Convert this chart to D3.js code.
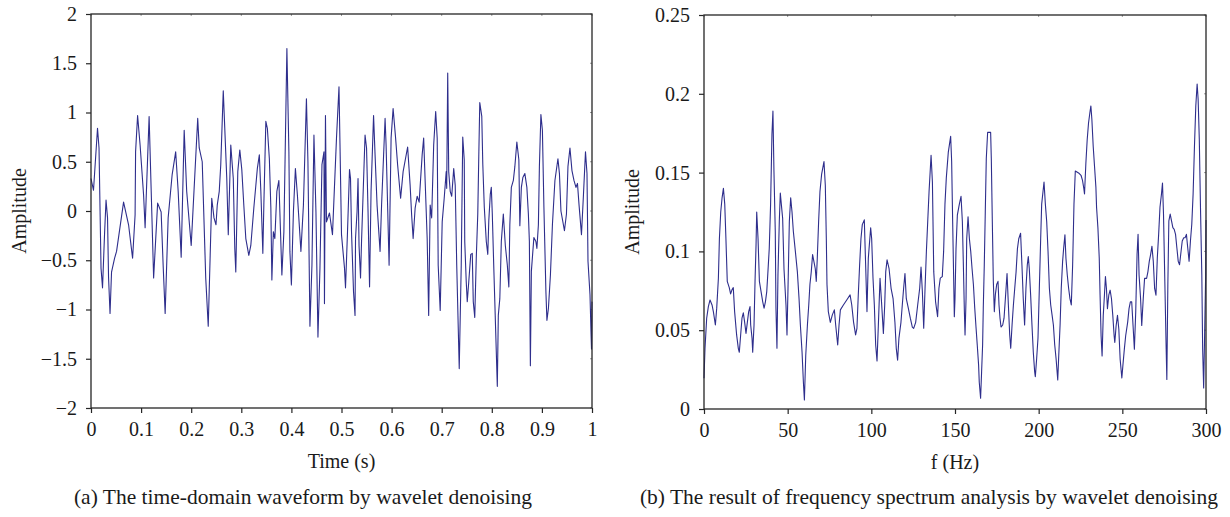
<!DOCTYPE html>
<html>
<head>
<meta charset="utf-8">
<script src="https://cdn.jsdelivr.net/npm/d3@7"></script>
<style>
  body { margin: 0; background: #fff; }
  svg text { font-family: "Liberation Serif", "Times New Roman", serif; fill: #1a1a1a; }
</style>
</head>
<body>
<div id="chart"></div>
<script>
// (a) time-domain waveform (time in s, amplitude)
const timeS = [
  0.000, 0.005, 0.013, 0.016, 0.020, 0.023, 0.027, 0.030, 0.033, 0.035, 0.038, 0.041, 0.047, 0.051,
  0.065, 0.075, 0.083, 0.088, 0.089, 0.093, 0.098, 0.105, 0.108, 0.116, 0.120, 0.125, 0.133, 0.140,
  0.144, 0.148, 0.154, 0.162, 0.169, 0.174, 0.180, 0.186, 0.191, 0.200, 0.213, 0.216, 0.222, 0.229,
  0.234, 0.241, 0.2455, 0.2495, 0.252, 0.256, 0.259, 0.264, 0.267, 0.271, 0.274, 0.279, 0.284, 0.287,
  0.289, 0.293, 0.297, 0.301, 0.305, 0.309, 0.315, 0.319, 0.325, 0.332, 0.336, 0.339, 0.343, 0.345,
  0.349, 0.352, 0.356, 0.359, 0.361, 0.364, 0.367, 0.371, 0.375, 0.377, 0.381, 0.385, 0.391, 0.395,
  0.397, 0.400, 0.404, 0.408, 0.412, 0.419, 0.424, 0.430, 0.433, 0.437, 0.441, 0.445, 0.449, 0.453,
  0.457, 0.461, 0.465, 0.466, 0.468, 0.470, 0.476, 0.482, 0.490, 0.495, 0.497, 0.500, 0.506, 0.508,
  0.512, 0.516, 0.518, 0.520, 0.524, 0.527, 0.528, 0.531, 0.533, 0.535, 0.538, 0.540, 0.547, 0.550,
  0.553, 0.556, 0.559, 0.564, 0.567, 0.571, 0.577, 0.580, 0.587, 0.589, 0.592, 0.595, 0.599, 0.603,
  0.608, 0.612, 0.618, 0.623, 0.632, 0.637, 0.640, 0.643, 0.647, 0.651, 0.655, 0.661, 0.664, 0.667,
  0.671, 0.674, 0.677, 0.680, 0.684, 0.688, 0.691, 0.693, 0.697, 0.701, 0.705, 0.709, 0.710, 0.712,
  0.714, 0.717, 0.720, 0.724, 0.727, 0.730, 0.735, 0.739, 0.742, 0.745, 0.746, 0.749, 0.751, 0.754,
  0.758, 0.761, 0.763, 0.766, 0.769, 0.772, 0.774, 0.776, 0.780, 0.782, 0.785, 0.789, 0.792, 0.794,
  0.797, 0.799, 0.801, 0.804, 0.806, 0.811, 0.813, 0.816, 0.819, 0.823, 0.827, 0.831, 0.834, 0.836,
  0.839, 0.843, 0.846, 0.850, 0.854, 0.856, 0.859, 0.862, 0.866, 0.870, 0.873, 0.875, 0.877, 0.879,
  0.884, 0.888, 0.890, 0.893, 0.895, 0.898, 0.901, 0.904, 0.908, 0.910, 0.913, 0.917, 0.921, 0.926,
  0.932, 0.935, 0.938, 0.945, 0.949, 0.952, 0.956, 0.960, 0.964, 0.968, 0.971, 0.974, 0.979, 0.983,
  0.987, 0.990, 0.992, 0.996, 0.998, 0.999, 1.000
];
const amplitude = [
  0.33, 0.21, 0.84, 0.64, -0.58, -0.78, -0.24, 0.11, -0.07, -0.67, -1.04, -0.62, -0.48, -0.41,
  0.09, -0.14, -0.48, -0.04, 0.60, 0.97, 0.67, 0.16, -0.17, 0.96, 0.23, -0.68, 0.08, -0.01,
  -0.55, -1.04, -0.07, 0.37, 0.60, 0.20, -0.47, 0.82, 0.20, -0.35, 0.94, 0.64, 0.50, -0.68,
  -1.17, 0.13, -0.07, -0.14, 0.06, 0.20, 0.47, 1.22, 0.84, 0.33, -0.24, 0.67, 0.33, -0.38,
  -0.62, 0.40, 0.62, 0.42, 0.06, -0.28, -0.45, -0.35, 0.03, 0.43, 0.57, 0.20, -0.43, 0.06,
  0.91, 0.84, 0.53, 0.03, -0.70, -0.21, -0.28, 0.20, 0.31, -0.01, -0.65, -0.21, 1.65, 0.60,
  -0.41, -0.75, -0.01, 0.43, 0.16, -0.41, 0.06, 1.14, 0.50, -1.17, -0.55, 0.77, -0.01, -1.28,
  -0.58, 0.47, 0.60, -0.94, 0.97, -0.11, -0.02, -0.24, 0.74, 1.26, 0.67, -0.24, -0.58, -0.78,
  -0.21, 0.42, 0.33, -0.21, -0.82, -1.06, -0.28, -0.01, 0.33, -0.35, -0.68, -0.31, 0.77, 0.64,
  -0.01, -0.77, 0.20, 0.97, 0.57, 0.06, -0.41, 0.06, 0.94, 0.67, 0.06, -0.55, 0.74, 1.04,
  0.74, 0.47, 0.13, 0.40, 0.65, 0.26, -0.04, -0.28, 0.03, 0.15, 0.09, 0.57, 0.74, 0.30,
  -0.28, -1.06, 0.06, -0.07, 0.67, 1.01, 0.74, -0.55, -1.01, -0.11, 0.13, 0.40, 0.23, 1.40,
  0.40, 0.20, 0.15, 0.43, 0.26, -0.55, -1.60, -0.55, 0.75, 0.52, -0.31, -0.72, -0.92, -0.72,
  -0.44, -0.43, -0.92, -1.08, -0.48, -0.03, 0.55, 1.10, 0.96, 0.48, 0.04, -0.31, -0.44, -0.10,
  0.17, 0.24, -0.03, -0.58, -0.92, -1.78, -1.06, -0.89, -0.31, -0.03, -0.35, -0.55, -0.77, -0.14,
  0.24, 0.31, 0.45, 0.70, 0.52, -0.15, 0.24, 0.34, 0.38, 0.24, -0.03, -0.31, -1.57, -0.61,
  -0.27, -0.31, -0.38, -0.14, 0.45, 0.98, 0.82, 0.04, -0.82, -1.11, -0.99, -0.65, -0.14, 0.31,
  0.53, 0.38, 0.00, -0.20, -0.03, 0.45, 0.64, 0.41, 0.31, 0.24, 0.28, 0.07, -0.24, 0.17,
  0.60, 0.38, -0.51, -0.85, -1.23, -1.40, -0.92
];

// (b) frequency spectrum (Hz, amplitude)
const freqHz = [
  0.0, 0.6, 1.6, 2.6, 3.6, 4.8, 5.6, 6.8, 7.6, 8.6, 9.2, 10.0, 10.8, 11.6, 12.4, 13.1, 13.9, 15.1,
  15.9, 16.7, 17.5, 18.3, 19.5, 20.5, 21.1, 21.9, 22.7, 23.5, 24.3, 25.1, 25.9, 26.7, 27.5, 27.9,
  28.7, 29.1, 29.9, 30.5, 31.1, 31.5, 32.3, 33.1, 34.1, 35.1, 35.9, 36.7, 37.5, 38.2, 39.0, 39.8,
  40.6, 41.2, 41.8, 42.6, 43.0, 43.6, 44.2, 45.0, 45.6, 46.2, 47.0, 47.8, 49.0, 49.6, 50.2, 51.0,
  51.8, 52.6, 53.4, 54.6, 55.8, 56.8, 57.6, 58.6, 59.4, 60.0, 60.8, 61.8, 62.6, 63.3, 64.1, 64.9,
  65.7, 66.5, 67.1, 67.7, 68.5, 69.3, 70.3, 71.7, 72.5, 73.1, 73.5, 74.3, 75.5, 76.7, 77.9, 78.7,
  79.9, 80.7, 81.5, 83.3, 85.3, 87.3, 88.3, 89.4, 90.6, 91.4, 92.2, 93.0, 93.8, 94.6, 95.8, 96.6,
  97.4, 98.2, 99.6, 100.2, 101.0, 101.8, 102.6, 103.4, 104.2, 105.2, 106.2, 107.2, 108.0, 108.6, 109.4, 110.6,
  111.8, 113.0, 114.1, 114.9, 115.7, 116.5, 117.7, 118.5, 119.3, 120.1, 120.9, 122.1, 123.3, 124.5, 125.3, 126.5,
  127.7, 128.9, 129.7, 130.5, 131.3, 132.1, 132.9, 133.7, 134.5, 135.7, 136.5, 137.3, 138.4, 139.6, 140.4, 141.2,
  142.4, 143.2, 144.0, 144.8, 146.0, 147.4, 148.0, 148.6, 149.2, 149.6, 150.0, 150.6, 151.4, 152.6, 153.6, 154.4,
  155.0, 155.6, 156.0, 156.6, 157.0, 157.8, 158.6, 159.4, 160.2, 161.0, 161.8, 162.6, 163.3, 164.1, 164.5, 165.3,
  165.9, 166.5, 166.9, 167.5, 168.1, 168.7, 169.5, 171.3, 171.7, 172.3, 172.9, 173.5, 174.1, 174.9, 175.7, 176.3,
  176.9, 177.5, 178.5, 179.3, 180.1, 181.1, 181.9, 182.7, 183.3, 184.1, 184.9, 185.7, 186.5, 187.3, 188.1, 189.2,
  190.0, 190.8, 191.6, 192.4, 193.2, 193.8, 194.4, 195.2, 196.0, 196.8, 197.6, 198.0, 198.8, 199.6, 200.4, 201.2,
  201.8, 203.2, 204.0, 204.8, 205.6, 206.4, 207.2, 208.0, 208.8, 209.6, 210.4, 211.4, 212.0, 212.8, 213.5, 214.3,
  214.9, 215.7, 216.3, 217.1, 217.9, 218.7, 219.5, 220.3, 221.1, 221.9, 224.3, 225.3, 226.2, 227.0, 227.4, 228.2,
  229.0, 229.8, 230.6, 231.2, 231.8, 232.6, 233.4, 234.2, 234.6, 235.4, 236.2, 236.7, 237.3, 237.9, 238.6, 239.3,
  239.9, 240.5, 241.1, 241.9, 242.7, 243.5, 244.3, 245.1, 245.5, 246.3, 247.1, 247.9, 248.7, 249.7, 250.3, 251.2,
  252.0, 253.2, 254.0, 254.8, 255.6, 256.4, 257.2, 258.0, 258.8, 259.4, 260.0, 260.9, 261.6, 262.5, 263.3, 264.5,
  265.3, 266.1, 266.9, 267.7, 268.5, 269.3, 270.1, 270.9, 271.7, 272.5, 273.4, 274.0, 274.6, 275.4, 276.2, 276.6,
  277.2, 277.8, 278.6, 279.4, 280.2, 281.0, 281.8, 282.6, 283.4, 284.2, 285.1, 285.8, 286.7, 287.5, 288.3, 289.1,
  289.9, 290.7, 291.5, 292.3, 293.1, 293.9, 294.7, 295.3, 296.0, 296.7, 297.5, 298.0, 298.6, 299.2, 299.8, 300.0
];
const spectrum = [
  0.0195, 0.0385, 0.0576, 0.065, 0.0692, 0.066, 0.0618, 0.0533, 0.064, 0.083, 0.108, 0.125, 0.134, 0.140, 0.130, 0.108, 0.081, 0.077,
  0.073, 0.0756, 0.077, 0.0618, 0.047, 0.0385, 0.036, 0.047, 0.0576, 0.061, 0.055, 0.048, 0.055, 0.0618, 0.065, 0.0533,
  0.045, 0.036, 0.0533, 0.081, 0.104, 0.125, 0.108, 0.081, 0.0745, 0.068, 0.064, 0.068, 0.0745, 0.087, 0.102, 0.130,
  0.174, 0.189, 0.151, 0.1126, 0.064, 0.0385, 0.085, 0.119, 0.137, 0.130, 0.121, 0.089, 0.066, 0.047, 0.0766, 0.119,
  0.134, 0.125, 0.1126, 0.100, 0.087, 0.070, 0.0533, 0.036, 0.017, 0.0057, 0.034, 0.0533, 0.066, 0.079, 0.087, 0.098,
  0.0935, 0.089, 0.081, 0.0957, 0.119, 0.138, 0.149, 0.157, 0.142, 0.108, 0.079, 0.0618, 0.055, 0.0597, 0.0629, 0.0533,
  0.0406, 0.0533, 0.0629, 0.066, 0.0692, 0.0724, 0.066, 0.055, 0.047, 0.0512, 0.0724, 0.0914, 0.108, 0.117, 0.120, 0.0914,
  0.0618, 0.0957, 0.115, 0.108, 0.083, 0.066, 0.0406, 0.0305, 0.0533, 0.083, 0.066, 0.048, 0.066, 0.087, 0.0946, 0.089,
  0.0766, 0.070, 0.055, 0.0385, 0.031, 0.045, 0.055, 0.066, 0.0766, 0.086, 0.070, 0.064, 0.0576, 0.052, 0.0512, 0.055,
  0.066, 0.0766, 0.090, 0.0745, 0.0512, 0.0766, 0.100, 0.119, 0.138, 0.161, 0.144, 0.087, 0.068, 0.0586, 0.0766, 0.083,
  0.084, 0.100, 0.130, 0.1465, 0.163, 0.173, 0.157, 0.119, 0.083, 0.0586, 0.070, 0.1016, 0.123, 0.130, 0.135, 0.119,
  0.0914, 0.0618, 0.047, 0.070, 0.108, 0.122, 0.108, 0.100, 0.089, 0.079, 0.064, 0.0512, 0.0406, 0.028, 0.017, 0.0068,
  0.0237, 0.0406, 0.064, 0.0914, 0.125, 0.159, 0.1755, 0.1755, 0.159, 0.119, 0.081, 0.0618, 0.0724, 0.079, 0.081, 0.066,
  0.0576, 0.052, 0.0533, 0.0576, 0.070, 0.086, 0.066, 0.047, 0.0385, 0.0533, 0.066, 0.0766, 0.087, 0.1016, 0.108, 0.1115,
  0.0914, 0.070, 0.0533, 0.0766, 0.0914, 0.0967, 0.089, 0.0724, 0.0533, 0.036, 0.0237, 0.0205, 0.032, 0.045, 0.0766, 0.108,
  0.130, 0.144, 0.130, 0.119, 0.100, 0.0766, 0.066, 0.0597, 0.0533, 0.0406, 0.032, 0.0184, 0.034, 0.0533, 0.0766, 0.0935,
  0.1016, 0.1105, 0.0957, 0.085, 0.0766, 0.070, 0.066, 0.0914, 0.130, 0.151, 0.1494, 0.1483, 0.1451, 0.1398, 0.1365, 0.1558,
  0.1708, 0.1815, 0.188, 0.1923, 0.1837, 0.1666, 0.1537, 0.1408, 0.128, 0.1151, 0.0958, 0.0722, 0.0465, 0.0337, 0.0594, 0.0722,
  0.0840, 0.0765, 0.0637, 0.0722, 0.0754, 0.0701, 0.0594, 0.0465, 0.0422, 0.053, 0.0594, 0.0508, 0.0315, 0.0197, 0.0272, 0.038,
  0.0465, 0.0551, 0.0637, 0.068, 0.068, 0.053, 0.038, 0.0615, 0.098, 0.1108, 0.0851, 0.0701, 0.053, 0.0701, 0.0829, 0.0829,
  0.0872, 0.0937, 0.098, 0.1033, 0.0937, 0.0765, 0.0722, 0.0958, 0.1108, 0.128, 0.1365, 0.1434, 0.1237, 0.0808, 0.038, 0.0187,
  0.0787, 0.1194, 0.1237, 0.1194, 0.1151, 0.1140, 0.1108, 0.1022, 0.0937, 0.0915, 0.1001, 0.1066, 0.1087, 0.1087, 0.1108, 0.1022,
  0.0937, 0.1066, 0.1172, 0.1365, 0.1666, 0.1923, 0.2062, 0.1965, 0.1708, 0.128, 0.0851, 0.038, 0.0133, 0.0486, 0.0851, 0.12
];

// tick values
const timeTicks = [0, 0.1, 0.2, 0.3, 0.4, 0.5, 0.6, 0.7, 0.8, 0.9, 1];
const ampTicks = [-2, -1.5, -1, -0.5, 0, 0.5, 1, 1.5, 2];
const freqTicks = [0, 50, 100, 150, 200, 250, 300];
const specTicks = [0, 0.05, 0.1, 0.15, 0.2, 0.25];

const width = 1230, height = 517;
const lineColor = "#2e2e8c";
const frameColor = "#262626";
const fmt = d3.format("~g");

const svg = d3.select("#chart").append("svg")
  .attr("width", width)
  .attr("height", height);

function drawPanel(p) {
  const x = d3.scaleLinear().domain(p.xDomain).range([p.left, p.right]);
  const y = d3.scaleLinear().domain(p.yDomain).range([p.bottom, p.top]);
  const g = svg.append("g");

  // outward ticks on bottom and left
  const xAxis = g.append("g")
    .attr("transform", `translate(0,${p.bottom})`)
    .call(d3.axisBottom(x).tickValues(p.xTicks).tickFormat(fmt).tickSize(5).tickSizeOuter(0).tickPadding(9));
  const yAxis = g.append("g")
    .attr("transform", `translate(${p.left},0)`)
    .call(d3.axisLeft(y).tickValues(p.yTicks).tickFormat(fmt).tickSize(5).tickSizeOuter(0).tickPadding(9));
  [xAxis, yAxis].forEach(a => {
    a.select(".domain").remove();
    a.selectAll(".tick line").attr("stroke", frameColor).attr("stroke-width", 1.2);
    a.selectAll(".tick text").attr("font-size", 20).attr("fill", "#1a1a1a")
      .attr("font-family", "Liberation Serif, serif");
  });

  // tiny inward marks on the top and right borders
  g.append("g").selectAll("line")
    .data(p.xTicks)
    .join("line")
    .attr("x1", d => x(d)).attr("x2", d => x(d))
    .attr("y1", p.top).attr("y2", p.top + 2)
    .attr("stroke", "#999");
  g.append("g").selectAll("line")
    .data(p.yTicks)
    .join("line")
    .attr("x1", p.right).attr("x2", p.right - 2)
    .attr("y1", d => y(d)).attr("y2", d => y(d))
    .attr("stroke", "#999");

  const line = d3.line()
    .x((d, i) => x(p.xs[i]))
    .y(d => y(d));

  g.append("path")
    .datum(p.ys)
    .attr("fill", "none")
    .attr("stroke", lineColor)
    .attr("stroke-width", 1.1)
    .attr("stroke-linejoin", "round")
    .attr("d", line);

  // box
  g.append("rect")
    .attr("x", p.left).attr("y", p.top)
    .attr("width", p.right - p.left).attr("height", p.bottom - p.top)
    .attr("fill", "none")
    .attr("stroke", frameColor)
    .attr("stroke-width", 1.3);

  // axis titles and caption
  g.append("text")
    .attr("transform", `translate(${p.left - 65},${(p.top + p.bottom) / 2}) rotate(-90)`)
    .attr("text-anchor", "middle")
    .attr("font-size", 20)
    .text("Amplitude");
  g.append("text")
    .attr("x", (p.left + p.right) / 2).attr("y", p.bottom + 60)
    .attr("text-anchor", "middle")
    .attr("font-size", 20)
    .text(p.xLabel);
  g.append("text")
    .attr("x", p.captionX).attr("y", 504)
    .attr("text-anchor", "middle")
    .attr("font-size", 21.5)
    .text(p.caption);
}

drawPanel({
  xs: timeS, ys: amplitude,
  xDomain: [0, 1], yDomain: [-2, 2],
  xTicks: timeTicks, yTicks: ampTicks,
  left: 91, right: 592, top: 14, bottom: 408,
  xLabel: "Time (s)",
  caption: "(a) The time-domain waveform by wavelet denoising",
  captionX: 303
});

drawPanel({
  xs: freqHz, ys: spectrum,
  xDomain: [0, 300], yDomain: [0, 0.25],
  xTicks: freqTicks, yTicks: specTicks,
  left: 704, right: 1206, top: 15, bottom: 409,
  xLabel: "f (Hz)",
  caption: "(b) The result of frequency spectrum analysis by wavelet denoising",
  captionX: 929
});
</script>
</body>
</html>
